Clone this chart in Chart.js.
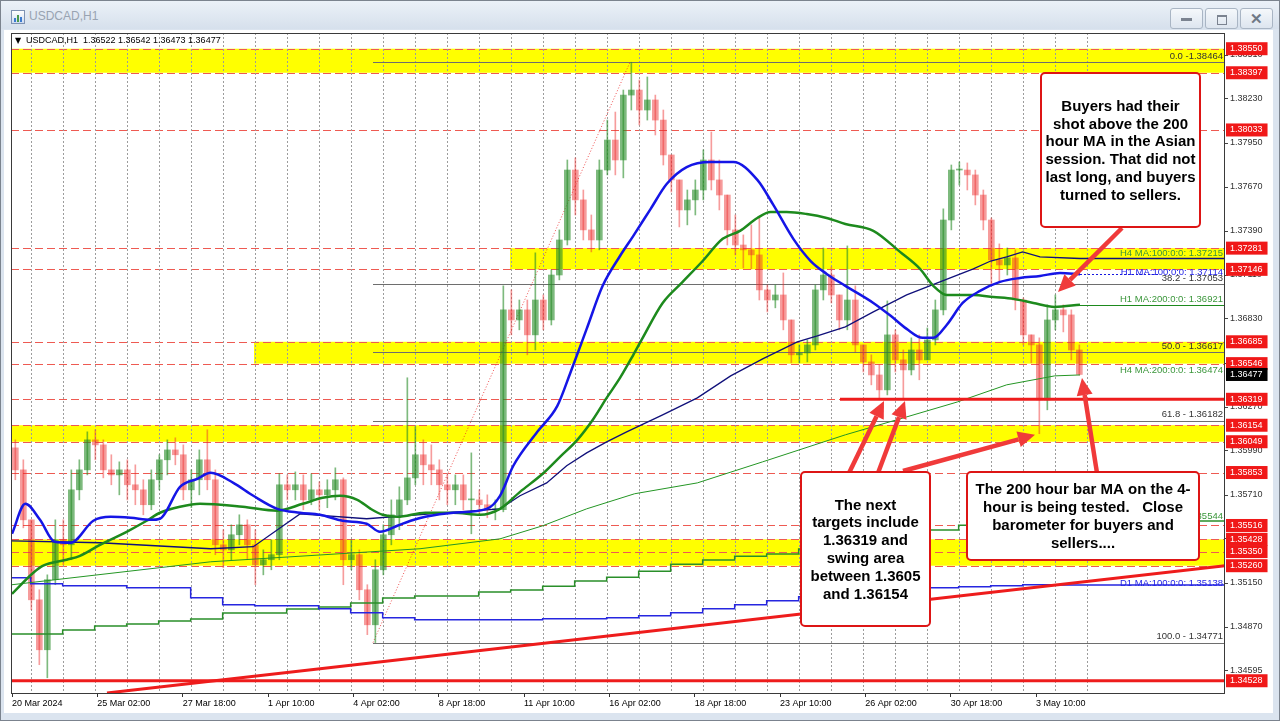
<!DOCTYPE html>
<html><head><meta charset="utf-8">
<script src="https://cdn.jsdelivr.net/npm/chart.js@4.4.1/dist/chart.umd.min.js"></script>
<style>
html,body{margin:0;padding:0;}
body{width:1280px;height:721px;position:relative;overflow:hidden;background:#dbe4ef;font-family:"Liberation Sans",Arial,sans-serif;}
#frame{position:absolute;left:0;top:0;width:1278px;height:719px;border:1px solid #7b838e;}
#titlebar{position:absolute;left:1px;top:1px;width:1278px;height:28px;background:linear-gradient(#ebf1f8,#d6e0ec);}
#title{position:absolute;left:29px;top:9px;font-size:12px;color:#98a3b1;}
#icon{position:absolute;left:11px;top:10px;width:12px;height:12px;border:1px solid #7f93b3;background:linear-gradient(#ffffff,#cfdcf0);}
#icon i{position:absolute;bottom:1px;width:2px;background:#3b7bd0;}
#panel{position:absolute;left:4px;top:30px;width:1269px;height:683px;background:#fff;}
.btn{position:absolute;top:8px;width:31px;height:19px;border:1px solid #a9b5c4;border-radius:3px;background:linear-gradient(#f5f8fb,#dde5ef);color:#6f7885;text-align:center;font-size:13px;line-height:19px;}
canvas{position:absolute;left:0;top:0;}
</style></head>
<body>
<div id="frame"></div>
<div id="titlebar"></div>
<div id="icon"><i style="left:2px;height:4px"></i><i style="left:5px;height:7px;background:#4a9a4a"></i><i style="left:8px;height:5px"></i></div>
<div id="title">USDCAD,H1</div>
<div class="btn" style="left:1170px;"><span style="display:inline-block;width:11px;height:3px;background:#7b8390;vertical-align:middle;"></span></div>
<div class="btn" style="left:1205px;"><span style="display:inline-block;width:8px;height:7px;border:1px solid #7b8390;border-top-width:2px;vertical-align:middle;"></span></div>
<div class="btn" style="left:1240px;font-weight:bold;font-size:15px;">✕</div>
<div id="panel"></div>
<canvas id="c" width="1280" height="721"></canvas>
<script>
const FONT = '"Liberation Sans", Arial, sans-serif';

// ---------- time axis (hourly bar index) ----------
const timeTickBars = [0, 64, 128, 192, 256, 320, 384, 448, 512, 576, 640, 704, 768];
const timeLabels = ['20 Mar 2024','25 Mar 02:00','27 Mar 18:00','1 Apr 10:00','4 Apr 02:00','8 Apr 18:00',
  '11 Apr 10:00','16 Apr 02:00','18 Apr 18:00','23 Apr 10:00','26 Apr 02:00','30 Apr 18:00','3 May 10:00'];
const dailyStartBars = [0,14,38,62,86,110,134,158,182,206,230,254,278,302,326,350,374,398,422,446,470,494,
  518,542,566,590,614,638,662,686,710,734,758,782];
const LAST_BAR = 801, EDGE_BAR = 909.75;

// ---------- price (6 hourly bars per candle) ----------
const BARS_PER_CANDLE = 6;
const candleOpen = [
1.36010,1.35870,1.35552,1.35043,1.34725,1.35171,1.35425,1.35393,1.35743,1.35870,
1.36061,1.36029,1.35870,1.35838,1.35870,1.35775,1.35743,1.35648,1.35807,1.35934,
1.35997,1.35966,1.35743,1.35807,1.35934,1.35807,1.35393,1.35361,1.35457,1.35520,
1.35393,1.35266,1.35298,1.35330,1.35775,1.35743,1.35775,1.35679,1.35743,1.35711,
1.35743,1.35807,1.35298,1.35330,1.35107,1.34884,1.35234,1.35457,1.35584,1.35679,
1.35819,1.35966,1.35902,1.35870,1.35775,1.35743,1.35775,1.35679,1.35679,1.35648,
1.35616,1.35616,1.36888,1.36824,1.36888,1.36729,1.36951,1.36824,1.37110,1.37333,
1.37778,1.37588,1.37397,1.37333,1.37778,1.37969,1.37842,1.38255,1.38287,1.38160,
1.38224,1.38096,1.37874,1.37715,1.37524,1.37588,1.37651,1.37842,1.37715,1.37619,
1.37397,1.37301,1.37270,1.37238,1.37015,1.36951,1.36983,1.36824,1.36602,1.36614,
1.36665,1.37015,1.37110,1.36983,1.36824,1.36951,1.36665,1.36557,1.36474,1.36379,
1.36729,1.36570,1.36506,1.36633,1.36570,1.36697,1.36888,1.37460,1.37778,1.37778,
1.37747,1.37619,1.37460,1.37206,1.37174,1.37219,1.36951,1.36729,1.36665,1.36315,
1.36824,1.36888,1.36856,1.36633];
const candleHigh = [
1.36061,1.35934,1.35552,1.35107,1.35202,1.35552,1.35552,1.35870,1.35934,1.36112,
1.36125,1.36061,1.35966,1.35921,1.35934,1.35902,1.35807,1.35870,1.35966,1.36061,
1.36074,1.36029,1.35870,1.35997,1.36125,1.35870,1.35489,1.35520,1.35584,1.35552,
1.35489,1.35361,1.35425,1.35845,1.35838,1.35857,1.35838,1.35845,1.35794,1.35807,
1.35883,1.35819,1.35425,1.35361,1.35139,1.35298,1.35520,1.35679,1.35762,1.36456,
1.36144,1.36061,1.36029,1.35934,1.35838,1.35838,1.35838,1.35978,1.35743,1.35711,
1.35679,1.37041,1.37015,1.36951,1.36951,1.37251,1.36983,1.37142,1.37397,1.37842,
1.37855,1.37651,1.37492,1.37842,1.38096,1.38147,1.38287,1.38464,1.38351,1.38370,
1.38255,1.38160,1.37874,1.37715,1.37651,1.37715,1.37906,1.38020,1.37842,1.37619,
1.37492,1.37365,1.37429,1.37473,1.37047,1.37047,1.37123,1.36824,1.36665,1.36697,
1.37047,1.37282,1.37161,1.36983,1.37295,1.37041,1.36665,1.36602,1.36538,1.36945,
1.36761,1.36633,1.36710,1.36729,1.36773,1.36951,1.37531,1.37810,1.37829,1.37823,
1.37778,1.37651,1.37473,1.37308,1.37282,1.37270,1.36964,1.36729,1.36710,1.36920,
1.36983,1.36920,1.36888,1.36665];
const candleLow = [
1.35807,1.35501,1.34980,1.34630,1.34547,1.35139,1.35266,1.35298,1.35679,1.35838,
1.35934,1.35819,1.35775,1.35711,1.35679,1.35648,1.35584,1.35616,1.35743,1.35838,
1.35902,1.35679,1.35629,1.35711,1.35743,1.35330,1.35247,1.35298,1.35393,1.35298,
1.35139,1.35202,1.35234,1.35298,1.35679,1.35679,1.35616,1.35648,1.35616,1.35629,
1.35679,1.35139,1.35234,1.35043,1.34821,1.34771,1.35202,1.35393,1.35489,1.35648,
1.35775,1.35775,1.35775,1.35679,1.35648,1.35648,1.35616,1.35463,1.35584,1.35565,
1.35552,1.35603,1.36729,1.36761,1.36602,1.36633,1.36761,1.36792,1.37079,1.37301,
1.37492,1.37333,1.37257,1.37270,1.37747,1.37747,1.37728,1.38160,1.38065,1.38096,
1.38001,1.37810,1.37638,1.37416,1.37429,1.37492,1.37588,1.37651,1.37524,1.37301,
1.37238,1.37155,1.37149,1.36951,1.36875,1.36901,1.36761,1.36551,1.36551,1.36557,
1.36633,1.36951,1.36932,1.36761,1.36761,1.36621,1.36493,1.36411,1.36328,1.36347,
1.36493,1.36328,1.36474,1.36443,1.36570,1.36665,1.36856,1.37397,1.37683,1.37651,
1.37556,1.37397,1.37041,1.37066,1.37110,1.36888,1.36665,1.36551,1.36100,1.36252,
1.36761,1.36748,1.36570,1.36473];
const candleClose = [
1.35870,1.35552,1.35043,1.34725,1.35171,1.35425,1.35393,1.35743,1.35870,1.36061,
1.36029,1.35870,1.35838,1.35870,1.35775,1.35743,1.35648,1.35807,1.35934,1.35997,
1.35966,1.35743,1.35807,1.35934,1.35807,1.35393,1.35361,1.35457,1.35520,1.35393,
1.35266,1.35298,1.35330,1.35775,1.35743,1.35775,1.35679,1.35743,1.35711,1.35743,
1.35807,1.35298,1.35330,1.35107,1.34884,1.35234,1.35457,1.35584,1.35679,1.35819,
1.35966,1.35902,1.35870,1.35775,1.35743,1.35775,1.35679,1.35679,1.35648,1.35616,
1.35616,1.36888,1.36824,1.36888,1.36729,1.36951,1.36824,1.37110,1.37333,1.37778,
1.37588,1.37397,1.37333,1.37778,1.37969,1.37842,1.38255,1.38287,1.38160,1.38224,
1.38096,1.37874,1.37715,1.37524,1.37588,1.37651,1.37842,1.37715,1.37619,1.37397,
1.37301,1.37270,1.37238,1.37015,1.36951,1.36983,1.36824,1.36602,1.36614,1.36665,
1.37015,1.37110,1.36983,1.36824,1.36951,1.36665,1.36557,1.36474,1.36379,1.36729,
1.36570,1.36506,1.36633,1.36570,1.36697,1.36888,1.37460,1.37778,1.37778,1.37747,
1.37619,1.37460,1.37206,1.37174,1.37219,1.36951,1.36729,1.36665,1.36315,1.36824,
1.36888,1.36856,1.36633,1.36477];
const headerOHLC = [1.36522, 1.36542, 1.36473, 1.36477];

// ---------- moving averages ----------
const h1ma100Bars = [0,10,21,32,44,61,74,89,104,111,126,139,149,166,181,199,216,231,248,266,276,289,299,310,331,
  356,366,376,394,409,419,431,443,456,466,479,491,506,524,541,559,571,586,599,611,625,646,659,671,683,691,701,713,
  726,741,756,771,786,801];
const h1ma100Vals = [1.35463,1.35654,1.35552,1.35412,1.35406,1.35546,1.35571,1.35565,1.35552,1.35559,1.35762,
  1.35813,1.35851,1.35787,1.35705,1.35622,1.35597,1.35584,1.35546,1.35527,1.35476,1.35514,1.35546,1.35571,1.35597,
  1.35622,1.35705,1.35896,1.36112,1.36277,1.36493,1.36767,1.37041,1.37231,1.37359,1.37531,1.37689,1.37797,1.37829,
  1.37829,1.37715,1.37556,1.37340,1.37199,1.37117,1.37041,1.36932,1.36850,1.36767,1.36710,1.36710,1.36792,1.36932,
  1.37009,1.37066,1.37091,1.37104,1.37123,1.37114];
const h1ma200Bars = [0,16,23,41,51,66,86,101,111,126,141,173,199,218,233,246,259,269,278,289,310,331,351,366,381,
  398,411,424,436,446,456,466,473,488,503,518,533,546,559,569,581,596,611,625,646,666,681,691,701,721,736,751,766,782,801];
const h1ma200Vals = [1.35081,1.35215,1.35259,1.35298,1.35323,1.35393,1.35476,1.35546,1.35597,1.35635,1.35654,
  1.35635,1.35610,1.35654,1.35692,1.35705,1.35679,1.35622,1.35584,1.35571,1.35597,1.35597,1.35584,1.35622,1.35730,
  1.35845,1.35953,1.36061,1.36194,1.36328,1.36455,1.36602,1.36710,1.36932,1.37066,1.37199,1.37340,1.37391,1.37473,
  1.37511,1.37511,1.37498,1.37473,1.37435,1.37391,1.37257,1.37149,1.37041,1.36983,1.36983,1.36970,1.36958,1.36932,
  1.36907,1.36921];
const h4ma100Bars = [0,66,149,181,216,266,314,366,381,401,416,431,446,461,488,514,539,563,589,604,625,646,671,696,
  721,734,746,758,771,801,909.75];
const h4ma100Vals = [1.35418,1.35406,1.35368,1.35381,1.35590,1.35559,1.35590,1.35622,1.35705,1.35787,1.35896,
  1.35978,1.36048,1.36112,1.36220,1.36328,1.36468,1.36576,1.36684,1.36722,1.36780,1.36875,1.36983,1.37066,1.37149,
  1.37199,1.37225,1.37257,1.37225,1.37215,1.37215];
const h4ma200Bars = [0,149,306,366,398,431,467,514,563,625,671,709,746,782,801];
const h4ma200Vals = [1.35139,1.35285,1.35368,1.35431,1.35514,1.35622,1.35718,1.35787,1.35921,1.36093,1.36207,
  1.36302,1.36411,1.36468,1.36474];
const d1ma100Vals = [1.35183,1.35145,1.35132,1.35132,1.35120,1.35120,1.35056,1.35012,1.35005,1.35005,1.34986,
  1.34961,1.34929,1.34916,1.34916,1.34916,1.34916,1.34923,1.34923,1.34929,1.34942,1.34961,1.34986,1.35012,1.35037,
  1.35062,1.35081,1.35094,1.35107,1.35120,1.35126,1.35132,1.35139,1.35138];
const d1ma200Vals = [1.34825,1.34825,1.34851,1.34876,1.34889,1.34908,1.34921,1.34959,1.34959,1.34984,1.34997,
  1.35022,1.35054,1.35067,1.35067,1.35092,1.35105,1.35130,1.35162,1.35187,1.35225,1.35270,1.35296,1.35321,1.35334,
  1.35366,1.35391,1.35423,1.35455,1.35487,1.35518,1.35537,1.35544,1.35544];

// ---------- levels ----------
const gridTicks = [1.38510,1.38230,1.37950,1.37670,1.37390,1.37110,1.36830,1.36550,1.36270,1.35990,1.35710,
  1.35430,1.35150,1.34870,1.34595];
const levelTicks = [1.38550,1.38397,1.38033,1.37281,1.37146,1.36685,1.36546,1.36319,1.36154,1.36049,1.35853,
  1.35516,1.35428,1.35350,1.35260,1.34528];
const lastPrice = 1.36477;
const bandTop = [1.38550, 1.37281, 1.36685, 1.36154, 1.35428];
const bandBottom = [1.38397, 1.37146, 1.36546, 1.36049, 1.35260];
const bandStartBar = [-1, 373.5, 181.5, -1, -1];
const fibPrices = [1.38464, 1.37053, 1.36617, 1.36182, 1.34771];
const fibLabels = ['0.0 -1.38464','38.2 - 1.37053','50.0 - 1.36617','61.8 - 1.36182','100.0 - 1.34771'];
const fibStartBar = 270.75, fibPeakBar = 463.5;
const trendBars = [71.25, 909.75];
const trendVals = [1.34450, 1.35260];
const targetLine = 1.36319, targetStartBar = 621;
const floorLine = 1.34528;

const maLabels = [
  {text:'H4 MA:100:0:0: 1.37215', value:1.37215, color:'#3a963a', through:false},
  {text:'H1 MA:100:0:0: 1.37114', value:1.37114, color:'#2323e6', through:true},
  {text:'H1 MA:200:0:0: 1.36921', value:1.36921, color:'#3a963a', through:false},
  {text:'H4 MA:200:0:0: 1.36474', value:1.36474, color:'#3a963a', through:false},
  {text:'D1 MA:200:0:0: 1.35544', value:1.35544, color:'#3a963a', through:false},
  {text:'D1 MA:100:0:0: 1.35138', value:1.35138, color:'#2323e6', through:true}
];

// ---------- annotations (data coordinates) ----------
const notes = [
  {l:771.75, r:891, t:1.38395, b:1.37415, lines:['Buyers had their','shot above the 200','hour MA in the Asian','session. That did not','last long, and buyers','turned to sellers.']},
  {l:591.75, r:688.5, t:1.35856, b:1.34876, lines:['The next','targets include','1.36319 and','swing area','between 1.3605','and 1.36154']},
  {l:716.25, r:890.25, t:1.35856, b:1.35296, lines:['The 200 hour bar MA on the 4-','hour is being tested.   Close','barometer for buyers and','sellers....']}
];
const arrowTailBar = [832.5, 627.75, 649.5, 668.25, 813.75];
const arrowTailPrice = [1.37409, 1.35850, 1.35850, 1.35863, 1.35850];
const arrowTipBar = [784.5, 654, 669.75, 767.25, 802.5];
const arrowTipPrice = [1.37002, 1.36308, 1.36308, 1.36093, 1.36454];

// ---------- build ----------
const yTicks = [...gridTicks, ...levelTicks, lastPrice];
const yKinds = [...gridTicks.map(() => 'g'), ...levelTicks.map(() => 'r'), 'k'];
const candleX = candleClose.map((_, i) => i * BARS_PER_CANDLE + 2.5);
const UP = 'rgba(40,140,40,0.6)', DOWN = 'rgba(236,45,45,0.47)';
const upAt = i => candleClose[i] >= candleOpen[i];
const pts = (bars, vals) => bars.map((b, i) => ({x: b, y: vals[i]}));
const stepPts = vals => [...pts(dailyStartBars, vals), {x: EDGE_BAR, y: vals[vals.length - 1]}];

function line(ctx, x0, y0, x1, y1) { ctx.beginPath(); ctx.moveTo(x0, y0); ctx.lineTo(x1, y1); ctx.stroke(); }
function arrow(ctx, x0, y0, x1, y1) {
  const a = Math.atan2(y1 - y0, x1 - x0), head = 17, hw = 8;
  const bx = x1 - head * Math.cos(a), by = y1 - head * Math.sin(a);
  line(ctx, x0, y0, bx, by);
  ctx.beginPath(); ctx.moveTo(x1, y1);
  ctx.lineTo(bx + hw * Math.sin(a), by - hw * Math.cos(a));
  ctx.lineTo(bx - hw * Math.sin(a), by + hw * Math.cos(a));
  ctx.closePath(); ctx.fill();
}

const mt4 = {
  id: 'mt4',
  beforeDatasetsDraw(chart) {
    const {ctx, chartArea: a, scales: {x, y}} = chart;
    ctx.save();
    ctx.beginPath(); ctx.rect(a.left, a.top, a.right - a.left, a.bottom - a.top); ctx.clip();
    ctx.fillStyle = '#ffff00';
    bandTop.forEach((t, i) => {
      const x0 = Math.max(a.left, x.getPixelForValue(bandStartBar[i]));
      const y0 = y.getPixelForValue(t), y1 = y.getPixelForValue(bandBottom[i]);
      ctx.fillRect(x0, y0, a.right - x0, y1 - y0);
    });
    ctx.lineWidth = 1;
    ctx.strokeStyle = '#ee5a52'; ctx.setLineDash([8, 4]);
    levelTicks.forEach(p => { const yy = Math.round(y.getPixelForValue(p)) + 0.5; line(ctx, a.left, yy, a.right, yy); });
    ctx.strokeStyle = '#9c9c9c'; ctx.setLineDash([2, 2]);
    [...dailyStartBars.slice(1), dailyStartBars[dailyStartBars.length - 1] + 24].forEach(b => {
      const xx = Math.round(x.getPixelForValue(b)) + 0.5; line(ctx, xx, a.top, xx, a.bottom);
    });
    ctx.setLineDash([]);
    ctx.strokeStyle = '#6e6e6e';
    const fx = x.getPixelForValue(fibStartBar);
    fibPrices.forEach(p => { const yy = Math.round(y.getPixelForValue(p)) + 0.5; line(ctx, fx, yy, a.right, yy); });
    ctx.strokeStyle = 'rgba(235,40,40,0.8)'; ctx.setLineDash([1, 2]);
    line(ctx, fx, y.getPixelForValue(fibPrices[4]), x.getPixelForValue(fibPeakBar), y.getPixelForValue(fibPrices[0]));
    ctx.restore();
  },
  afterDatasetsDraw(chart) {
    const {ctx, chartArea: a, scales: {x, y}} = chart;
    ctx.save();
    ctx.beginPath(); ctx.rect(a.left, a.top, a.right - a.left, a.bottom - a.top); ctx.clip();
    ctx.strokeStyle = '#ee1c1c'; ctx.lineWidth = 3;
    let yy = y.getPixelForValue(floorLine); line(ctx, a.left, yy, a.right, yy);
    yy = y.getPixelForValue(targetLine); line(ctx, x.getPixelForValue(targetStartBar), yy, a.right, yy);
    ctx.lineWidth = 1;
    ctx.strokeStyle = '#1d8a1d';
    yy = Math.round(y.getPixelForValue(h1ma200Vals[h1ma200Vals.length - 1])) + 0.5;
    line(ctx, x.getPixelForValue(LAST_BAR), yy, a.right, yy);
    ctx.strokeStyle = '#1515e0'; ctx.setLineDash([2, 2]);
    yy = Math.round(y.getPixelForValue(h1ma100Vals[h1ma100Vals.length - 1])) + 0.5;
    line(ctx, x.getPixelForValue(LAST_BAR), yy, x.getPixelForValue(861), yy);
    ctx.setLineDash([]);
    ctx.font = `9.5px ${FONT}`; ctx.textAlign = 'right';
    maLabels.forEach(m => {
      const py = y.getPixelForValue(m.value);
      ctx.fillStyle = m.color;
      ctx.textBaseline = 'middle';
      ctx.fillText(m.text, a.right - 2, m.through ? py - 2 : py - 5);
    });
    ctx.fillStyle = '#333';
    fibLabels.forEach((t, i) => {
      ctx.textBaseline = 'middle';
      ctx.fillText(t, a.right - 2, y.getPixelForValue(fibPrices[i]) - 6);
    });
    ctx.textAlign = 'left'; ctx.textBaseline = 'middle'; ctx.fillStyle = '#000';
    ctx.font = `8px "DejaVu Sans", sans-serif`;
    ctx.fillText('▼', a.left + 4, a.top + 8);
    ctx.font = `9px ${FONT}`;
    ctx.fillText('USDCAD,H1  ' + headerOHLC.map(v => v.toFixed(5)).join(' '), a.left + 15, a.top + 8);
    ctx.restore();
    ctx.save();
    ctx.strokeStyle = '#3a3a3a'; ctx.lineWidth = 1;
    ctx.strokeRect(a.left + 0.5, a.top + 0.5, a.right - a.left - 1, a.bottom - a.top);
    ctx.strokeStyle = '#f03a3a'; ctx.fillStyle = '#f03a3a'; ctx.lineWidth = 4.5; ctx.lineCap = 'butt';
    arrowTailBar.forEach((b, i) => arrow(ctx, x.getPixelForValue(b), y.getPixelForValue(arrowTailPrice[i]),
      x.getPixelForValue(arrowTipBar[i]), y.getPixelForValue(arrowTipPrice[i])));
    notes.forEach(n => {
      const l = x.getPixelForValue(n.l), r = x.getPixelForValue(n.r);
      const t = y.getPixelForValue(n.t), b = y.getPixelForValue(n.b);
      ctx.beginPath(); ctx.roundRect(l, t, r - l, b - t, 4);
      ctx.fillStyle = '#fff'; ctx.fill();
      ctx.strokeStyle = '#dd1515'; ctx.lineWidth = 2; ctx.stroke();
      ctx.fillStyle = '#000'; ctx.font = `bold 15px ${FONT}`;
      ctx.textAlign = 'center'; ctx.textBaseline = 'middle';
      const lh = 17.8, cy = (t + b) / 2, cx = (l + r) / 2;
      n.lines.forEach((s, k) => ctx.fillText(s, cx, cy + (k - (n.lines.length - 1) / 2) * lh + 1));
    });
    ctx.restore();
  }
};

Chart.defaults.font.family = FONT;
new Chart(document.getElementById('c'), {
  type: 'line',
  data: {
    datasets: [
      {type: 'line', label: 'Trend', data: pts(trendBars, trendVals), borderColor: '#ee1c1c', borderWidth: 3,
        pointRadius: 0, order: 1},
      {type: 'line', label: 'H1 MA100', data: pts(h1ma100Bars, h1ma100Vals), borderColor: '#1515e6', borderWidth: 2.5,
        pointRadius: 0, cubicInterpolationMode: 'monotone', order: 2},
      {type: 'line', label: 'H1 MA200', data: pts(h1ma200Bars, h1ma200Vals), borderColor: '#1d8a1d', borderWidth: 2.5,
        pointRadius: 0, cubicInterpolationMode: 'monotone', order: 3},
      {type: 'line', label: 'H4 MA100', data: pts(h4ma100Bars, h4ma100Vals), borderColor: '#10107a', borderWidth: 1.3,
        pointRadius: 0, tension: 0, order: 4},
      {type: 'line', label: 'H4 MA200', data: pts(h4ma200Bars, h4ma200Vals), borderColor: '#249624', borderWidth: 1,
        pointRadius: 0, tension: 0, order: 5},
      {type: 'line', label: 'D1 MA100', data: stepPts(d1ma100Vals), borderColor: '#2626e0', borderWidth: 1.5,
        pointRadius: 0, stepped: true, order: 6},
      {type: 'line', label: 'D1 MA200', data: stepPts(d1ma200Vals), borderColor: '#2a8f2a', borderWidth: 1.5,
        pointRadius: 0, stepped: true, order: 7},
      {type: 'bar', label: 'Body', data: candleX.map((b, i) => ({x: b, y: [candleOpen[i], candleClose[i]]})),
        backgroundColor: c => upAt(c.dataIndex) ? UP : DOWN, barThickness: 6, minBarLength: 1, grouped: false,
        borderWidth: 0, order: 18},
      {type: 'bar', label: 'Wick', data: candleX.map((b, i) => ({x: b, y: [candleLow[i], candleHigh[i]]})),
        backgroundColor: c => upAt(c.dataIndex) ? UP : DOWN, barThickness: 1, grouped: false,
        borderWidth: 0, order: 19}
    ]
  },
  options: {
    responsive: false, animation: false, devicePixelRatio: 1, events: [],
    layout: {padding: {left: 11, top: 33, right: 0, bottom: 0}},
    plugins: {legend: {display: false}, tooltip: {enabled: false}},
    scales: {
      x: {
        type: 'linear', min: -0.75, max: EDGE_BAR, offset: false, bounds: 'data',
        border: {display: false},
        grid: {display: true, drawOnChartArea: false, drawTicks: true, tickLength: 4, tickColor: '#333', offset: false},
        ticks: {autoSkip: false, maxRotation: 0, minRotation: 0, align: 'start', padding: 1, color: '#000',
          font: {size: 9, family: FONT}, callback: (v, i) => timeLabels[i]},
        afterBuildTicks: s => { s.ticks = timeTickBars.map(v => ({value: v})); },
        afterFit: s => { s.height = 28; }
      },
      y: {
        type: 'linear', position: 'right', min: 1.34450, max: 1.38650, bounds: 'data',
        border: {display: false},
        grid: {drawOnChartArea: false, drawTicks: true, tickLength: 3,
          tickColor: c => yKinds[c.index] === 'g' ? '#444' : 'rgba(0,0,0,0)'},
        ticks: {autoSkip: false, padding: 2, font: {size: 9, family: FONT, lineHeight: 1.0},
          color: c => yKinds[c.index] === 'g' ? '#333' : '#fff',
          showLabelBackdrop: c => yKinds[c.index] !== 'g',
          backdropColor: c => yKinds[c.index] === 'k' ? '#000' : '#f01818',
          backdropPadding: {left: 4, right: 5, top: 2, bottom: 2},
          callback: v => v.toFixed(5)},
        afterBuildTicks: s => { s.ticks = yTicks.map(v => ({value: v})); },
        afterFit: s => { s.width = 55; }
      }
    }
  },
  plugins: [mt4]
});
</script>
</body></html>
